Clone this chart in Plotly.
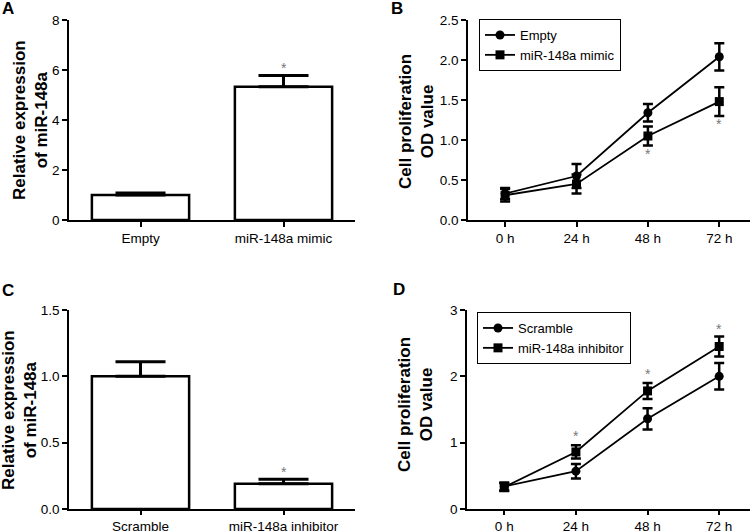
import plotly.graph_objects as go

W, H = 755, 532
FONT = "Liberation Sans, Arial, sans-serif"

# Panel A - relative expression, mimic
a_groups = ["Empty", "miR-148a mimic"]
a_values = [1.0, 5.33]
a_errors = [0.08, 0.45]
a_star_y = [None, 6.1]

# Panel B - proliferation, mimic
times = ["0 h", "24 h", "48 h", "72 h"]
b_empty = [0.33, 0.55, 1.34, 2.04]
b_empty_err = [0.07, 0.15, 0.11, 0.17]
b_mimic = [0.31, 0.45, 1.05, 1.48]
b_mimic_err = [0.08, 0.12, 0.12, 0.18]
b_star_y = [None, None, 0.83, 1.20]

# Panel C - relative expression, inhibitor
c_groups = ["Scramble", "miR-148a inhibitor"]
c_values = [1.0, 0.19]
c_errors = [0.11, 0.035]
c_star_y = [None, 0.28]

# Panel D - proliferation, inhibitor
d_scramble = [0.34, 0.57, 1.36, 2.00]
d_scramble_err = [0.06, 0.11, 0.16, 0.20]
d_inhib = [0.33, 0.86, 1.78, 2.45]
d_inhib_err = [0.06, 0.10, 0.12, 0.15]
d_star_y = [None, 1.10, 2.04, 2.72]


def px_x(x):
    return x / W


def px_y(y):
    return 1 - y / H


fig = go.Figure()


def add_bars(groups, values, errors, xa, ya):
    fig.add_trace(go.Bar(
        x=groups, y=values, width=0.68,
        marker=dict(color="white", line=dict(color="black", width=2.5)),
        error_y=dict(type="data", array=errors, arrayminus=[0] * len(errors),
                     symmetric=False, color="black", thickness=3, width=25),
        xaxis=xa, yaxis=ya, showlegend=False,
    ))


def add_line(times, values, errors, name, symbol, xa, ya, legend):
    fig.add_trace(go.Scatter(
        x=times, y=values, name=name, mode="lines+markers",
        line=dict(color="black", width=1.8),
        marker=dict(symbol=symbol, size=9, color="black"),
        error_y=dict(type="data", array=errors, color="black", thickness=2.5, width=5),
        xaxis=xa, yaxis=ya, legend=legend,
    ))


def add_stars(xs, ys, xref, yref):
    for x, y in zip(xs, ys):
        if y is None:
            continue
        fig.add_annotation(x=x, y=y, xref=xref, yref=yref, text="*", showarrow=False,
                           xanchor="center", yanchor="middle",
                           font=dict(size=14, color="#777777", family=FONT))


add_bars(a_groups, a_values, a_errors, "x", "y")
add_stars(a_groups, a_star_y, "x", "y")

add_line(times, b_empty, b_empty_err, "Empty", "circle", "x2", "y2", "legend")
add_line(times, b_mimic, b_mimic_err, "miR-148a mimic", "square", "x2", "y2", "legend")
add_stars(times, b_star_y, "x2", "y2")

add_bars(c_groups, c_values, c_errors, "x3", "y3")
add_stars(c_groups, c_star_y, "x3", "y3")

add_line(times, d_scramble, d_scramble_err, "Scramble", "circle", "x4", "y4", "legend2")
add_line(times, d_inhib, d_inhib_err, "miR-148a inhibitor", "square", "x4", "y4", "legend2")
add_stars(times, d_star_y, "x4", "y4")

axis_style = dict(showline=True, linecolor="black", linewidth=1.5, ticks="outside",
                  ticklen=5, tickwidth=1.5, tickcolor="black", showgrid=False,
                  zeroline=False, automargin=False,
                  tickfont=dict(size=13.5, color="black", family=FONT))
# bottom row x axes sit right at the page edge: shorter ticks keep labels in view
low_x_style = dict(axis_style, ticklen=4)

top = [px_y(220), px_y(20)]
bottom = [px_y(509), px_y(310)]

fig.update_layout(
    width=W, height=H,
    margin=dict(l=0, r=0, t=0, b=0, autoexpand=False),
    plot_bgcolor="white", paper_bgcolor="white",
    font=dict(family=FONT, color="black"),
    xaxis=dict(domain=[px_x(69), px_x(355)], range=[-0.5, 1.5], anchor="y", **axis_style),
    yaxis=dict(domain=top, range=[0, 8], dtick=2, anchor="x", **axis_style),
    xaxis2=dict(domain=[px_x(468), px_x(750)], range=[-0.52, 3.43], anchor="y2", **axis_style),
    yaxis2=dict(domain=top, range=[0, 2.5], dtick=0.5, tickformat=".1f", anchor="x2", **axis_style),
    xaxis3=dict(domain=[px_x(69), px_x(355)], range=[-0.5, 1.5], anchor="y3", **low_x_style),
    yaxis3=dict(domain=bottom, range=[0, 1.5], dtick=0.5, tickformat=".1f", anchor="x3", **axis_style),
    xaxis4=dict(domain=[px_x(467), px_x(750)], range=[-0.52, 3.43], anchor="y4", **low_x_style),
    yaxis4=dict(domain=bottom, range=[0, 3], dtick=1, anchor="x4", **axis_style),
    legend=dict(x=px_x(479), y=px_y(19), xanchor="left", yanchor="top",
                bordercolor="black", borderwidth=1, bgcolor="white",
                font=dict(size=13, family=FONT), tracegroupgap=0),
    legend2=dict(x=px_x(477), y=px_y(312), xanchor="left", yanchor="top",
                 bordercolor="black", borderwidth=1, bgcolor="white",
                 font=dict(size=13, family=FONT), tracegroupgap=0),
)

# panel letters
for letter, x, y in [("A", 8, 9), ("B", 397, 9), ("C", 8, 290), ("D", 399, 289)]:
    fig.add_annotation(x=px_x(x), y=px_y(y), xref="paper", yref="paper", text=f"<b>{letter}</b>",
                       xanchor="center", yanchor="middle",
                       showarrow=False, font=dict(size=17, family=FONT))

# axis titles
for text, x, y in [
    ("Relative expression<br>of miR-148a", 30, 120),
    ("Cell proliferation<br>OD value", 416, 122),
    ("Relative expression<br>of miR-148a", 19, 410),
    ("Cell proliferation<br>OD value", 415, 405),
]:
    fig.add_annotation(x=px_x(x), y=px_y(y), xref="paper", yref="paper", text=f"<b>{text}</b>",
                       xanchor="center", yanchor="middle",
                       showarrow=False, textangle=-90, font=dict(size=17, family=FONT))

# drop the default 8px page margin so the figure sits at the window's top-left corner
fig.write_html("out.html", config={"displayModeBar": False},
               post_script="document.body.style.margin='0';")
